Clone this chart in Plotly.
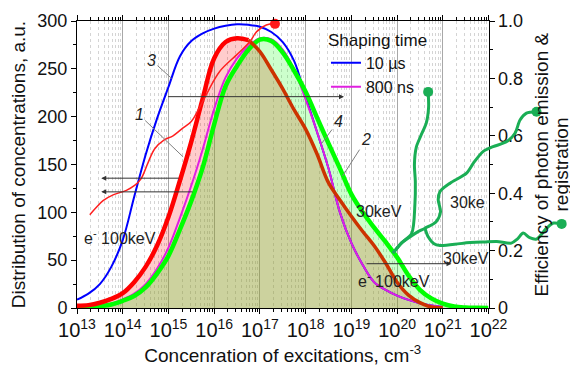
import numpy as np
import plotly.graph_objects as go

# ---------------- data ----------------
log_conc = [13.0, 13.25, 13.5, 13.75, 14.0, 14.25, 14.5, 14.75, 15.0, 15.25, 15.5, 15.75,
            16.0, 16.25, 16.5, 16.75, 17.0, 17.25, 17.5, 17.75, 18.0, 18.25, 18.5, 18.75,
            19.0, 19.25, 19.5, 19.75, 20.0, 20.25, 20.5, 20.75, 21.0, 21.25, 21.5, 21.75, 22.0]

curve1_red = [2.4, 3.0, 5.5, 9.5, 15.5, 27, 43, 65, 95, 133, 174, 219,
              261, 278, 282, 280, 268, 249, 229, 207, 187, 161, 131, 113,
              96, 80, 65, 47, 27, 13.5, 5.6, 1.0, 0.4, 0.2, 0, 0, 0]
curve2_green = [0.5, 1.0, 2.0, 3.7, 7.5, 12.5, 21.5, 36, 54.5, 82, 112, 147,
                192, 232, 253, 270, 280.5, 279, 267, 248, 226, 199, 172, 146,
                119, 100, 84, 69, 53, 34, 19, 10, 4.5, 1.5, 0.5, 0.2, 0]
curve3_blue = [8.7, 15, 25, 43, 71, 116, 160, 198, 231, 263, 279, 287,
               292, 295, 296.5, 296, 294, 288.5, 278, 258, 221, 184, 146, 100,
               68, 45, 27, 19, 13, 8.5, 5, 2.5, 1.0, 0.3, 0, 0, 0]
curve4_magenta = [0.6, 1.2, 2.4, 4.5, 9, 15, 25, 41, 63, 94, 128, 166,
                  208, 241, 261, 274, 282, 281, 270, 249, 218, 184, 146, 100,
                  68, 45, 27, 19, 13, 8.5, 5, 2.5, 1.0, 0.3, 0, 0, 0]

# efficiency (right axis), thin red curve
eff_red_log = [13.28, 13.42, 13.57, 13.79, 14.08, 14.26, 14.4, 14.55, 14.7, 14.9, 15.1,
               15.3, 15.5, 15.65, 15.8, 16.12, 16.49, 16.78, 16.93, 17.14, 17.33]
eff_red_val = [0.325, 0.35, 0.374, 0.394, 0.41, 0.427, 0.45, 0.505, 0.555, 0.585, 0.6,
               0.625, 0.65, 0.69, 0.735, 0.824, 0.882, 0.928, 0.963, 0.986, 0.99]

# efficiency, green branching curves
eff_gA_log = [19.91, 20.1, 20.32, 20.39, 20.4, 20.38, 20.42, 20.52, 20.64, 20.69, 20.68]
eff_gA_val = [0.191, 0.227, 0.26, 0.36, 0.44, 0.5, 0.56, 0.6, 0.645, 0.70, 0.753]
eff_gB_log = [19.91, 20.1, 20.32, 20.46, 20.61, 20.85, 20.95, 20.9, 20.94, 21.16, 21.52,
              21.67, 21.88, 22.1, 22.4, 22.58, 22.69, 22.83, 23.05]
eff_gB_val = [0.191, 0.227, 0.252, 0.266, 0.278, 0.3, 0.335, 0.377, 0.406, 0.435, 0.47,
              0.505, 0.545, 0.562, 0.58, 0.609, 0.655, 0.679, 0.684]
eff_gC_log = [20.61, 20.68, 20.8, 20.94, 21.45, 21.9, 22.18, 22.5, 22.63, 22.76, 22.9,
              23.05, 23.27, 23.42, 23.6]
eff_gC_val = [0.278, 0.248, 0.225, 0.218, 0.226, 0.23, 0.232, 0.226, 0.24, 0.261, 0.245,
              0.24, 0.278, 0.296, 0.293]

right_tickvals = [0, 0.2, 0.4, 0.6, 0.8, 1.0]
right_ticktext = ["0", "0.2", "0.4", "0.6", "0.8", "1.0"]

# ---------------- figure ----------------
FONT = "Liberation Sans, Arial, sans-serif"
W, H, ML, MT, MB = 570, 368, 77, 21, 59.7
PW, PH = W - ML, H - MT - MB
conc = [10 ** v for v in log_conc]
lower = np.minimum(curve1_red, curve2_green)
n_end = log_conc.index(21.0) + 1
i_peak = log_conc.index(16.75)

fig = go.Figure()
nolines = dict(width=0, shape="spline")
fig.add_trace(go.Scatter(x=conc, y=lower, mode="lines", line=nolines, fill="tozeroy",
                         fillcolor="rgba(142,155,40,0.45)", showlegend=False, hoverinfo="skip"))
fig.add_trace(go.Scatter(x=conc, y=curve1_red, mode="lines", line=nolines, fill="tonexty",
                         fillcolor="rgba(255,0,0,0.2)", showlegend=False, hoverinfo="skip"))
fig.add_trace(go.Scatter(x=conc, y=lower, mode="lines", line=nolines,
                         showlegend=False, hoverinfo="skip"))
fig.add_trace(go.Scatter(x=conc, y=curve2_green, mode="lines", line=nolines, fill="tonexty",
                         fillcolor="rgba(0,255,0,0.2)", showlegend=False, hoverinfo="skip"))

fig.add_trace(go.Scatter(x=conc[:n_end], y=curve3_blue[:n_end], mode="lines", name="10 µs",
                         line=dict(color="#0000ff", width=2, shape="spline")))
fig.add_trace(go.Scatter(x=conc[:n_end], y=curve4_magenta[:n_end], mode="lines", name="800 ns",
                         line=dict(color="#e020e0", width=2, shape="spline")))
fig.add_trace(go.Scatter(x=conc, y=curve2_green, mode="lines", showlegend=False,
                         line=dict(color="#00ff00", width=4.5, shape="spline")))
fig.add_trace(go.Scatter(x=conc[:i_peak + 1], y=curve1_red[:i_peak + 1], mode="lines",
                         showlegend=False, line=dict(color="#ff0000", width=4.5, shape="spline")))
fig.add_trace(go.Scatter(x=conc[i_peak:n_end], y=curve1_red[i_peak:n_end], mode="lines",
                         showlegend=False, line=dict(color="#cc3300", width=3.5, shape="spline")))

# efficiency curves
fig.add_trace(go.Scatter(x=[10 ** v for v in eff_red_log], y=eff_red_val, yaxis="y2",
                         mode="lines", showlegend=False,
                         line=dict(color="#ff2020", width=1.5, shape="spline")))
fig.add_trace(go.Scatter(x=[10 ** eff_red_log[-1]], y=[eff_red_val[-1]], yaxis="y2",
                         mode="markers", showlegend=False, cliponaxis=False,
                         marker=dict(color="#ff1a1a", size=10)))
GREEN2 = "#1aae55"
for lx, vy in [(eff_gA_log, eff_gA_val), (eff_gB_log, eff_gB_val), (eff_gC_log, eff_gC_val)]:
    fig.add_trace(go.Scatter(x=[10 ** v for v in lx], y=vy, xaxis="x3", yaxis="y3",
                             mode="lines", showlegend=False,
                             line=dict(color=GREEN2, width=3, shape="spline", smoothing=0.8)))
    fig.add_trace(go.Scatter(x=[10 ** lx[-1]], y=[vy[-1]], xaxis="x3", yaxis="y3",
                             mode="markers", showlegend=False, cliponaxis=False,
                             marker=dict(color=GREEN2, size=10)))

# ---------------- annotations ----------------
ann = []
def label(txt, tx, ty, hx, hy):
    ann.append(dict(text="<i>%s</i>" % txt, x=hx, y=hy, ax=tx, ay=ty, xref="x", yref="y",
                    axref="x", ayref="y", showarrow=True, arrowhead=0, arrowwidth=1,
                    arrowcolor="#808080", font=dict(size=16, color="#222")))
label("3", 14.63, 259, 15.07, 240)
label("1", 14.36, 202, 15.32, 158)
label("4", 18.71, 195, 18.35, 172)
label("2", 19.32, 176, 18.81, 138)

def arrow(x0, x1, yv):
    ann.append(dict(text="", x=x1, y=yv, ax=x0, ay=yv, xref="x", yref="y", axref="x",
                    ayref="y", showarrow=True, arrowhead=2, arrowsize=1, arrowwidth=1,
                    arrowcolor="#333333", standoff=0, startstandoff=0))
arrow(14.96, 18.84, 220.9)
arrow(15.26, 13.53, 135.7)
arrow(15.56, 13.53, 121.4)
arrow(19.30, 21.19, 46.3)

def text(t, xv, yv):
    ann.append(dict(text=t, x=xv, y=yv, xref="x", yref="y", showarrow=False,
                    font=dict(size=16, color="#222")))
text("e<sup>-</sup> 100keV", 13.94, 74.5)
text("e<sup>-</sup> 100keV", 19.93, 29.5)
text("30keV", 19.6, 101)
text("30ke", 21.55, 110)
text("30keV", 21.5, 52)

# right-axis title, two lines (tight line spacing as in the reference)
for t, xpx in [("Efficiency of photon emission &", 541), ("registration", 561)]:
    ann.append(dict(text=t, x=(xpx - ML) / PW, y=0.5, xref="paper", yref="paper",
                    showarrow=False, textangle=-90, xanchor="center", yanchor="middle",
                    font=dict(size=19, color="#111")))

# white panel behind the legend (hides the grid there, stays below the curves)
shapes = [dict(type="rect", xref="paper", yref="paper", layer="between",
               x0=(326 - ML) / PW, x1=(433 - ML) / PW,
               y0=1 - (93 - MT) / PH, y1=1 - (29 - MT) / PH,
               fillcolor="white", line=dict(width=0))]

dom_end = (488.5 - ML) / PW
fig.update_layout(
    width=W, height=H,
    margin=dict(l=ML, r=0, t=MT, b=MB, pad=0),
    paper_bgcolor="white", plot_bgcolor="rgba(0,0,0,0)",
    font=dict(family=FONT, size=18, color="#111"),
    annotations=ann, shapes=shapes,
    showlegend=True,
    legend=dict(x=0.505, y=0.99, xref="paper", yref="paper", xanchor="left", yanchor="top",
                bgcolor="rgba(0,0,0,0)", borderwidth=0, font=dict(size=16),
                traceorder="normal",
                title=dict(text="Shaping time", font=dict(size=17))),
    xaxis=dict(type="log", range=[13, 22], domain=[0, dom_end], dtick=1,
               exponentformat="power", showexponent="all", tickfont=dict(size=16),
               showline=True, linecolor="black", linewidth=1, mirror="ticks",
               ticks="outside", ticklen=5, tickcolor="black",
               showgrid=True, gridcolor="#a8a8a8", gridwidth=1, zeroline=False,
               minor=dict(ticks="outside", ticklen=3, tickcolor="black",
                          showgrid=True, gridcolor="#d4d4d4", griddash="dot"),
               title=dict(text="Concenration of excitations, cm<sup>-3</sup>",
                          font=dict(size=19), standoff=8),
               automargin=False, anchor="y"),
    yaxis=dict(range=[0, 300], dtick=50, showline=True, linecolor="black", linewidth=1,
               ticks="outside", ticklen=5, tickcolor="black", showgrid=False, zeroline=False,
               minor=dict(ticks="outside", ticklen=3, dtick=25, tickcolor="black"),
               title=dict(text="Distribution of concentrations, a.u.", font=dict(size=19),
                          standoff=6),
               automargin=False, anchor="x"),
    yaxis2=dict(range=[0, 1], overlaying="y", side="right", anchor="x",
                tickmode="array", tickvals=right_tickvals, ticktext=right_ticktext,
                showline=True, linecolor="black", linewidth=1,
                ticks="outside", ticklen=5, tickcolor="black", showgrid=False, zeroline=False,
                minor=dict(ticks="outside", ticklen=3, tickmode="linear", tick0=0, dtick=0.1,
                           tickcolor="black"),
                automargin=False),
    xaxis3=dict(type="log", range=[13, 13 + PW / ((488.5 - ML) / 9)], domain=[0, 1],
                anchor="y3", visible=False),
    yaxis3=dict(range=[0, 1], domain=[0, 1], anchor="x3", visible=False),
)

fig.write_html("out.html")
